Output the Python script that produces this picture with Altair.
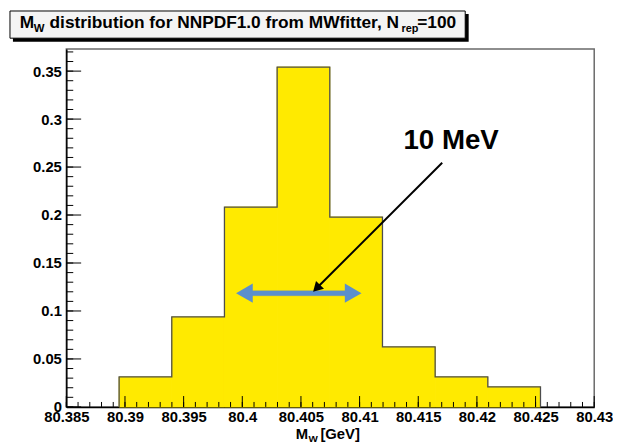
import altair as alt
import pandas as pd

# ---- data ----
bin_lo = 80.3895
bin_width = 0.00449
values = [0.03125, 0.09375, 0.2083, 0.3542, 0.1979, 0.0625, 0.03125, 0.02083]

y_major = [0, 0.05, 0.1, 0.15, 0.2, 0.25, 0.3, 0.35]
y_minor = [round(0.01 * i, 3) for i in range(0, 38)]
x_major = [80.385, 80.39, 80.395, 80.4, 80.405, 80.41, 80.415, 80.42, 80.425, 80.43]
x_minor = [round(80.385 + 0.001 * i, 4) for i in range(0, 46)]

x_domain = [80.385, 80.43]
y_domain = [0, 0.373]

# annotation anchors (data coordinates)
span_lo, span_hi, span_y = 80.4003, 80.4094, 0.1185
head_l, head_r = 80.40018, 80.40945
ptr_from = (80.41704, 0.2545)
ptr_to = (80.4065, 0.1257)
ptr_head = (80.40633, 0.1236)
label_pos = (80.4178, 0.2689)
label_text = "10 MeV"

FONT = "Liberation Sans"
YELLOW = "#FFEA00"
BLUE = "#5B8FCC"
W, H = 534, 362

edges = [bin_lo + i * bin_width for i in range(len(values) + 1)]
bars = pd.DataFrame({
    "lo": edges[:-1], "hi": edges[1:], "v": values, "z": [0.0] * len(values)
})
outline_pts = [(edges[0], 0.0)]
for i, v in enumerate(values):
    outline_pts.append((edges[i], v))
    outline_pts.append((edges[i + 1], v))
outline_pts.append((edges[-1], 0.0))
outline = pd.DataFrame({
    "x": [p[0] for p in outline_pts],
    "y": [p[1] for p in outline_pts],
    "o": list(range(len(outline_pts))),
})

xs = alt.Scale(domain=x_domain, nice=False, zero=False)
ys = alt.Scale(domain=y_domain, nice=False, zero=True)

xaxis = alt.Axis(values=x_major, format="~g", title=None, grid=False, ticks=False,
                 tickSize=0, labelFont=FONT, labelFontWeight="bold", labelFontSize=15,
                 labelColor="black", labelPadding=3, labelFlush=False,
                 labelOverlap=False, domainColor="black", domainWidth=1.5)
yaxis = alt.Axis(values=y_major, format="~g", title=None, grid=False, ticks=False,
                 tickSize=0, labelFont=FONT, labelFontWeight="bold", labelFontSize=15,
                 labelColor="black", labelPadding=5, labelFlush=False,
                 labelOverlap=False, domainColor="black", domainWidth=1.5)

bar_layer = alt.Chart(bars).mark_rect(color=YELLOW, stroke=YELLOW, strokeWidth=1).encode(
    x=alt.X("lo:Q", scale=xs, axis=xaxis),
    x2="hi:Q",
    y=alt.Y("v:Q", scale=ys, axis=yaxis),
    y2="z:Q",
)

outline_layer = alt.Chart(outline).mark_line(color="#4d4d4d", strokeWidth=1.3).encode(
    x="x:Q", y="y:Q", order="o:Q"
)

ymaj = alt.Chart(pd.DataFrame({"t": y_major})).mark_rule(color="black", strokeWidth=1).encode(
    y="t:Q", x=alt.value(0), x2=alt.value(15))
ymin = alt.Chart(pd.DataFrame({"t": y_minor})).mark_rule(color="black", strokeWidth=1).encode(
    y="t:Q", x=alt.value(0), x2=alt.value(7))
xmaj = alt.Chart(pd.DataFrame({"t": x_major})).mark_rule(color="black", strokeWidth=1).encode(
    x="t:Q", y=alt.value(H), y2=alt.value(H - 11))
xmin = alt.Chart(pd.DataFrame({"t": x_minor})).mark_rule(color="black", strokeWidth=1).encode(
    x="t:Q", y=alt.value(H), y2=alt.value(H - 5))

# blue double arrow
span_df = pd.DataFrame({"a": [span_lo], "b": [span_hi], "y": [span_y]})
span_shadow = alt.Chart(span_df).mark_rule(color="#8a8a8a", strokeWidth=6, opacity=0.35).encode(
    x="a:Q", x2="b:Q", y="y:Q")
span_rule = alt.Chart(span_df).mark_rule(color=BLUE, strokeWidth=5).encode(
    x="a:Q", x2="b:Q", y="y:Q")
heads_df = pd.DataFrame({"x": [head_l, head_r], "y": [span_y, span_y],
                         "s": ["triangle-left", "triangle-right"]})
heads = alt.Chart(heads_df).mark_point(filled=True, color=BLUE, opacity=1, size=380).encode(
    x="x:Q", y="y:Q", shape=alt.Shape("s:N", scale=None))

# black pointer arrow
ptr_df = pd.DataFrame({"x": [ptr_from[0]], "y": [ptr_from[1]],
                       "x2": [ptr_to[0]], "y2": [ptr_to[1]]})
ptr = alt.Chart(ptr_df).mark_rule(color="black", strokeWidth=2).encode(
    x="x:Q", y="y:Q", x2="x2:Q", y2="y2:Q")
ptr_head_layer = alt.Chart(pd.DataFrame({"x": [ptr_head[0]], "y": [ptr_head[1]]})).mark_point(
    shape="triangle-up", filled=True, color="black", opacity=1, size=130, angle=225
).encode(x="x:Q", y="y:Q")

label = alt.Chart(pd.DataFrame({"x": [label_pos[0]], "y": [label_pos[1]], "t": [label_text]})).mark_text(
    font=FONT, fontWeight="bold", fontSize=28, color="black", align="center", baseline="alphabetic"
).encode(x="x:Q", y="y:Q", text="t:N")

one = pd.DataFrame({"k": [0]})

# title box (pixel positions relative to the plot origin)
box_shadow = alt.Chart(one).mark_rect(color="black").encode(
    x=alt.value(-54), x2=alt.value(407), y=alt.value(-35.5), y2=alt.value(-7.5))
box = alt.Chart(one).mark_rect(fill="#f4f4f4", stroke="black", strokeWidth=1).encode(
    x=alt.value(-57), x2=alt.value(403.5), y=alt.value(-38.5), y2=alt.value(-11))

title_pieces = [
    ("M", -47, -21, 17.5),
    ("W", -33, -17.5, 11.5),
    ("distribution for NNPDF1.0 from MWfitter, N", -17, -21, 17.5),
    ("rep", 339, -17.5, 11),
    ("=100", 355, -21, 17.5),
]
title_layers = []
for txt, px, py, fs in title_pieces:
    title_layers.append(
        alt.Chart(pd.DataFrame({"t": [txt]})).mark_text(
            font=FONT, fontWeight="bold", fontSize=fs, color="black",
            align="left", baseline="alphabetic"
        ).encode(x=alt.value(px), y=alt.value(py), text="t:N")
    )

xtitle_pieces = [
    ("M", 232, H + 32, 15),
    ("W", 245, H + 35.5, 10),
    ("[GeV]", 257, H + 32, 15),
]
xtitle_layers = []
for txt, px, py, fs in xtitle_pieces:
    xtitle_layers.append(
        alt.Chart(pd.DataFrame({"t": [txt]})).mark_text(
            font=FONT, fontWeight="bold", fontSize=fs, color="black",
            align="left", baseline="alphabetic"
        ).encode(x=alt.value(px), y=alt.value(py), text="t:N")
    )

chart = alt.layer(
    bar_layer, outline_layer, ymin, ymaj, xmin, xmaj,
    span_shadow, span_rule, heads, ptr, ptr_head_layer, label,
    box_shadow, box, *title_layers, *xtitle_layers,
).properties(
    width=W, height=H,
    autosize=alt.AutoSizeParams(type="none"),
    padding={"left": 59, "top": 39, "right": 19, "bottom": 36},
    background="white",
).configure_view(
    stroke="#6a6a6a", strokeWidth=1.5
)

chart.save("out.html", embed_options={"renderer": "svg", "actions": False})
